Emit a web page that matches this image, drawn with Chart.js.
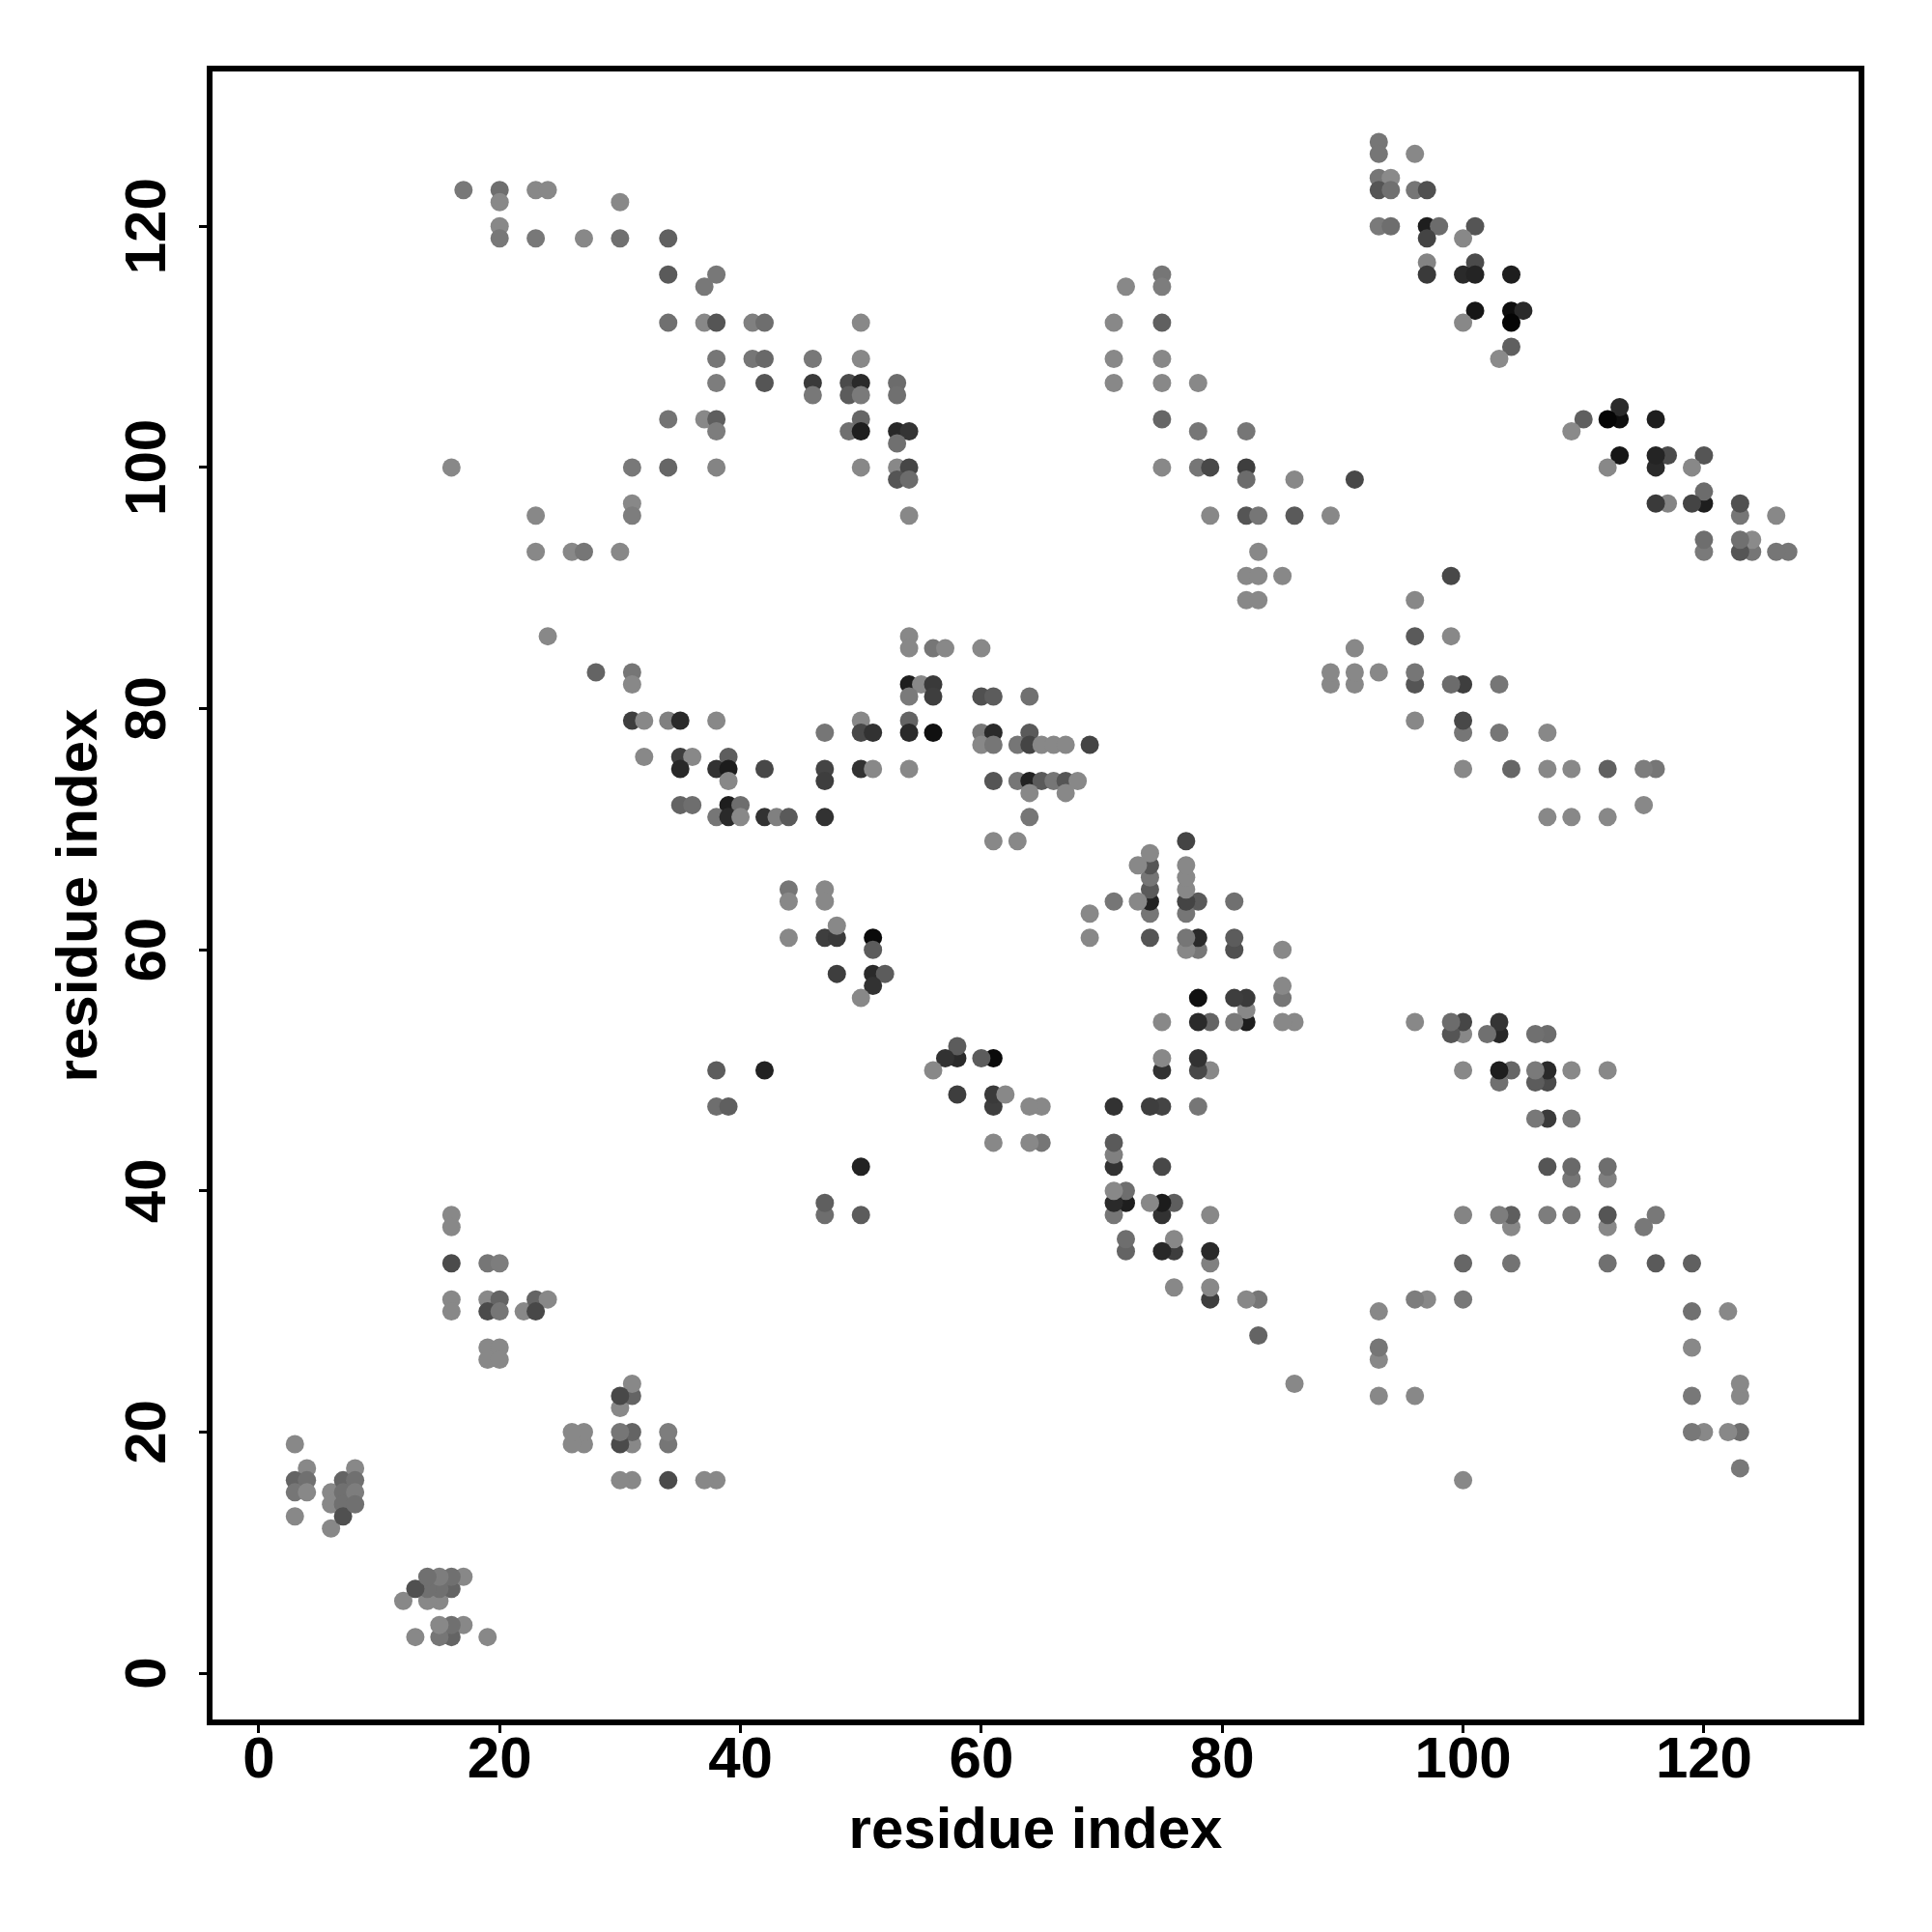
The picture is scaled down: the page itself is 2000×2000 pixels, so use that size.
<!DOCTYPE html>
<html>
<head>
<meta charset="utf-8">
<script src="https://cdn.jsdelivr.net/npm/chart.js@4.4.1/dist/chart.umd.min.js"></script>
<style>
  html, body { margin: 0; padding: 0; background: #fff; }
  #wrap { width: 2000px; height: 2000px; }
</style>
</head>
<body>
<div id="wrap"><canvas id="contact-map" width="2000" height="2000"></canvas></div>
<script>
// contact map: only the upper triangle (j > i) is stored, the plot is symmetric
const contactI = [
  17, 20, 20, 20, 20, 23, 24, 23, 27, 30, 30, 16, 31,
  34, 34, 38, 37, 34, 37, 38, 41, 42, 50, 38, 41, 42, 46, 50, 38, 42, 46, 46, 49, 50,
  49, 50, 53, 53, 34, 37, 38, 38, 50, 49, 50, 53, 54, 53, 34, 38, 50, 53, 54, 53, 54,
  93, 93, 96, 93, 94, 93, 94, 96, 97, 93, 94, 97, 98, 97, 97, 97, 72, 75, 75, 71, 75,
  71, 75, 71, 75, 78, 75, 78, 82, 75, 78, 79, 82, 82, 86, 91,
  101, 100, 101, 100, 101, 104, 101, 100, 104, 105, 104, 104, 103,
  31, 31, 23, 23, 26, 27, 30, 24, 28, 31, 31, 31, 32,
  54, 54, 54, 56, 57, 60, 54, 55, 56, 54, 56, 60, 61, 64, 32, 34, 35, 38, 50, 47, 50,
  51, 54, 54, 56, 60, 61, 60, 61, 64, 63, 64, 65, 35, 36, 35, 38, 39, 39, 39, 42, 47,
  47, 50, 51, 54, 61, 63, 64, 65, 64, 64, 61, 63, 35, 36, 39, 40, 38, 39, 40, 42, 43,
  44, 47, 44, 44, 47, 47,
  79, 82, 83, 86, 89, 83, 82, 83, 85, 82, 83, 66, 67, 69, 66, 67, 68, 67,
  16, 16, 16, 19, 20, 16, 16, 19, 20, 19, 20, 22, 23, 24, 23,
  19, 20, 19, 20, 3, 4, 3, 4, 3, 4, 3, 6, 6, 6, 7, 7, 7, 7, 8, 8, 8, 8,
  44, 47, 48, 48, 51, 51, 48, 51, 52, 51, 50, 38, 42, 38, 39
];
const contactJ = [
  123, 123, 122, 120, 119, 123, 123, 119, 119, 122, 119, 100, 100,
  119, 116, 116, 115, 112, 112, 112, 112, 112, 112, 109, 109, 109, 109, 109, 107, 107, 107, 106, 107, 107,
  106, 106, 107, 106, 104, 104, 104, 103, 104, 103, 103, 103, 103, 102, 100, 100, 100, 100, 100, 99, 99,
  127, 126, 126, 124, 124, 123, 123, 123, 123, 120, 120, 120, 120, 119, 117, 116, 115, 116, 115, 112, 112,
  109, 109, 107, 107, 107, 104, 103, 103, 100, 100, 100, 100, 99, 99, 99,
  120, 119, 117, 116, 116, 116, 113, 112, 113, 113, 112, 110, 109,
  97, 96, 96, 93, 93, 93, 93, 86, 83, 83, 82, 79, 76,
  96, 86, 85, 85, 85, 85, 82, 82, 82, 81, 81, 81, 81, 81, 79, 79, 79, 79, 79, 78, 78,
  78, 79, 78, 78, 78, 78, 77, 77, 78, 77, 77, 77, 76, 76, 75, 75, 76, 75, 74, 75, 75,
  74, 75, 75, 75, 74, 74, 74, 74, 73, 71, 69, 69, 72, 72, 72, 72, 71, 71, 71, 71, 71,
  71, 71, 65, 64, 65, 64,
  96, 96, 96, 96, 96, 93, 91, 91, 91, 89, 89, 77, 77, 77, 74, 74, 74, 73,
  38, 37, 34, 34, 34, 31, 30, 31, 31, 30, 30, 30, 31, 31, 30,
  27, 27, 26, 26, 19, 17, 16, 16, 15, 15, 13, 15, 14, 12, 16, 15, 14, 13, 17, 16, 15, 14,
  61, 61, 61, 62, 61, 60, 58, 58, 58, 57, 56, 50, 50, 47, 47
];
// grey level of each contact (0 = black, 255 = white)
const contactGray = [
  120, 110, 136, 136, 120, 136, 136, 120, 136, 136, 112, 136, 120,
  96, 90, 120, 120, 112, 136, 85, 128, 110, 136, 118, 118, 105, 120, 136, 125, 85, 58, 120, 75, 42,
  92, 122, 108, 112, 115, 136, 94, 125, 102, 112, 30, 40, 52, 112, 102, 132, 136, 136, 70, 85, 108,
  118, 118, 136, 118, 138, 85, 112, 118, 80, 122, 110, 30, 108, 68, 132, 58, 136, 118, 125, 136, 96,
  136, 136, 136, 136, 136, 102, 118, 118, 136, 118, 72, 62, 108, 136, 72,
  85, 136, 75, 42, 36, 30, 22, 136, 14, 42, 5, 95, 138,
  136, 125, 136, 136, 136, 118, 136, 136, 100, 118, 136, 62, 136,
  136, 136, 136, 118, 136, 136, 30, 136, 58, 122, 62, 80, 92, 112, 136, 128, 42, 136, 136, 118, 72,
  50, 100, 42, 16, 120, 42, 136, 118, 90, 118, 68, 136, 62, 136, 40, 50, 94, 28, 136, 72, 68,
  62, 50, 136, 136, 85, 118, 34, 90, 136, 118, 136, 136, 100, 110, 30, 110, 118, 42, 136, 50, 128,
  90, 50, 118, 136, 136, 136,
  136, 85, 118, 90, 136, 136, 136, 136, 136, 136, 136, 136, 136, 68, 118, 85, 136, 136,
  136, 136, 75, 118, 125, 136, 136, 136, 100, 75, 118, 136, 100, 136, 72,
  136, 136, 136, 136, 136, 136, 100, 112, 118, 136, 136, 136, 136, 136, 100, 112, 112, 80, 136, 112, 125, 112,
  136, 62, 58, 136, 10, 92, 62, 42, 92, 50, 136, 92, 34, 110, 95
];
const tickValues = [0, 20, 40, 60, 80, 100, 120];
const axisTitle = "residue index";
const axisMin = -4.08;
const axisMax = 133.08;

// both (i, j) and (j, i) are plotted
const points = [];
const colors = [];
contactI.forEach((i, k) => {
  const j = contactJ[k];
  const g = contactGray[k];
  const c = `rgb(${g},${g},${g})`;
  points.push({ x: i, y: j });
  colors.push(c);
  points.push({ x: j, y: i });
  colors.push(c);
});

const textFont = 'bold 60px "Liberation Sans", Arial, Helvetica, sans-serif';

// frame box and R-style labels (y tick labels are vertical)
const framePlugin = {
  id: "frame",
  afterDraw(chart) {
    const { ctx, chartArea, scales } = chart;
    const { left, right, top, bottom } = chartArea;
    ctx.save();
    ctx.strokeStyle = "#000";
    ctx.lineWidth = 6;
    ctx.strokeRect(left, top, right - left, bottom - top);

    ctx.fillStyle = "#000";
    ctx.font = textFont;
    ctx.textAlign = "center";
    ctx.textBaseline = "alphabetic";
    tickValues.forEach((v) => {
      ctx.fillText(String(v), scales.x.getPixelForValue(v), 1840);
    });
    tickValues.forEach((v) => {
      ctx.save();
      ctx.translate(171, scales.y.getPixelForValue(v));
      ctx.rotate(-Math.PI / 2);
      ctx.fillText(String(v), 0, 0);
      ctx.restore();
    });

    ctx.fillText(axisTitle, (left + right) / 2, 1913);
    ctx.save();
    ctx.translate(100, (top + bottom) / 2);
    ctx.rotate(-Math.PI / 2);
    ctx.fillText(axisTitle, 0, 0);
    ctx.restore();
    ctx.restore();
  },
};

const axisOptions = (fit) => ({
  type: "linear",
  min: axisMin,
  max: axisMax,
  afterBuildTicks: (scale) => {
    scale.ticks = tickValues.map((v) => ({ value: v }));
  },
  afterFit: fit,
  ticks: { display: false },
  border: { display: false },
  grid: {
    drawOnChartArea: false,
    drawTicks: true,
    tickLength: 11,
    tickWidth: 3,
    tickColor: "#000",
  },
});

new Chart(document.getElementById("contact-map"), {
  type: "scatter",
  data: {
    datasets: [
      {
        data: points,
        pointBackgroundColor: colors,
        pointBorderWidth: 0,
        pointRadius: 9.5,
        pointHoverRadius: 9.5,
      },
    ],
  },
  options: {
    responsive: false,
    animation: false,
    layout: { padding: { top: 71, right: 73, left: 0, bottom: 0 } },
    plugins: { legend: { display: false }, tooltip: { enabled: false } },
    scales: {
      x: axisOptions((s) => { s.height = 217; }),
      y: axisOptions((s) => { s.width = 217; }),
    },
  },
  plugins: [framePlugin],
});
</script>
</body>
</html>
